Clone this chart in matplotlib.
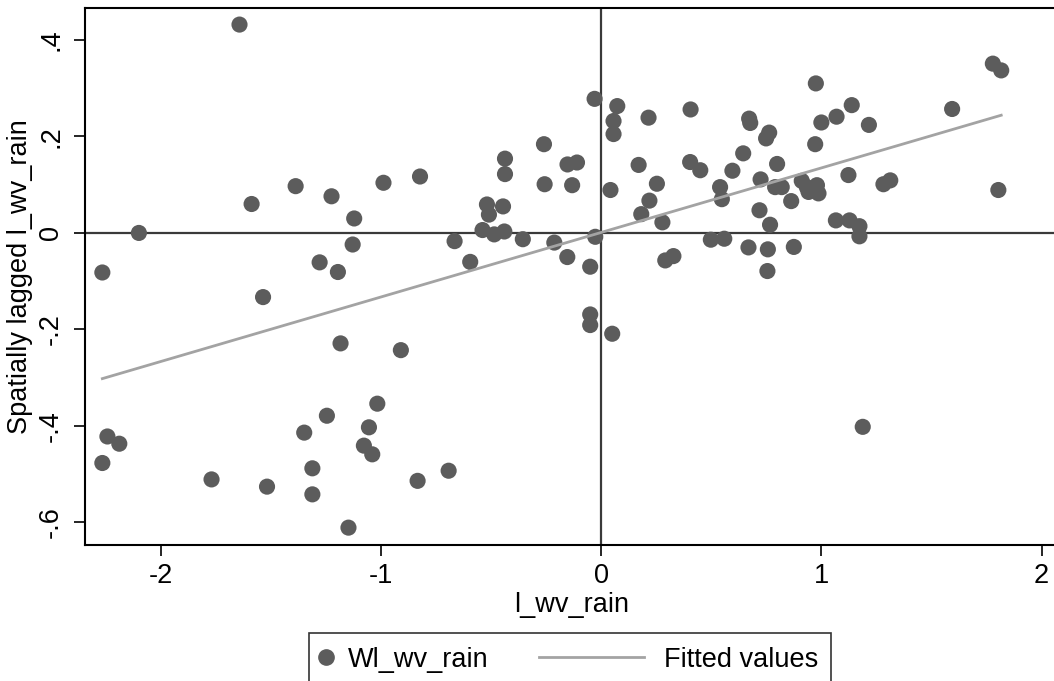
import numpy as np
import matplotlib
matplotlib.use('Agg')
import matplotlib.pyplot as plt
from matplotlib.lines import Line2D
from matplotlib.legend_handler import HandlerLine2D

plt.rcParams['font.family'] = ['Liberation Sans', 'DejaVu Sans']
plt.rcParams['axes.unicode_minus'] = False

# standardised rain (x) and its spatial lag (y)
l_wv_rain = [-1.643, -0.030, -0.260, -0.437, -0.437, -0.153, -0.110, -0.257, -0.132, -0.823,
             -0.989, -1.388, -1.225, -1.588, -1.122, -0.519, -0.446, -0.510, -0.539, -0.486,
             -0.440, -0.356, -0.213, -0.027, -0.666, -0.595, -0.154, -0.050, -2.100, -2.266,
             -1.129, -1.279, -1.196, -1.536, -0.050, -0.050, -1.184, -0.910, -1.017, -1.246,
             -1.055, -1.349, -2.243, -2.189, -2.266, -1.078, -1.040, -1.312, -0.693, -1.770,
             -0.834, -1.518, -1.312, -1.148, 0.050, 1.188, 1.779, 1.817, 0.975, 1.594,
             1.138, 1.069, 1.000, 1.216, 0.972, 0.073, 0.056, 0.056, 0.215, 0.406,
             0.672, 0.677, 0.763, 0.749, 0.645, 0.799, 0.170, 0.404, 0.450, 0.596,
             0.724, 1.123, 1.282, 1.313, 1.804, 0.042, 0.253, 0.540, 0.548, 0.219,
             0.182, 0.278, 0.719, 0.767, 0.863, 0.911, 0.934, 0.980, 0.987, 0.942,
             0.790, 0.820, 1.066, 1.128, 1.173, 1.173, 0.498, 0.559, 0.669, 0.757,
             0.875, 0.755, 0.291, 0.328]
wl_wv_rain = [0.432, 0.278, 0.184, 0.154, 0.122, 0.142, 0.146, 0.101, 0.099, 0.117,
              0.104, 0.097, 0.076, 0.060, 0.030, 0.059, 0.055, 0.038, 0.006, -0.003,
              0.003, -0.013, -0.020, -0.008, -0.017, -0.060, -0.050, -0.070, 0.000, -0.082,
              -0.024, -0.061, -0.081, -0.133, -0.169, -0.191, -0.229, -0.243, -0.354, -0.379,
              -0.403, -0.414, -0.422, -0.437, -0.477, -0.441, -0.459, -0.488, -0.493, -0.511,
              -0.514, -0.526, -0.542, -0.611, -0.209, -0.402, 0.351, 0.337, 0.310, 0.257,
              0.265, 0.241, 0.229, 0.224, 0.184, 0.263, 0.232, 0.205, 0.239, 0.256,
              0.237, 0.228, 0.208, 0.196, 0.165, 0.143, 0.141, 0.147, 0.130, 0.129,
              0.111, 0.120, 0.101, 0.109, 0.089, 0.089, 0.102, 0.095, 0.070, 0.067,
              0.039, 0.022, 0.047, 0.017, 0.066, 0.108, 0.095, 0.099, 0.082, 0.085,
              0.095, 0.095, 0.026, 0.026, 0.014, -0.007, -0.014, -0.012, -0.030, -0.034,
              -0.029, -0.079, -0.057, -0.048]

x_ticks = [-2, -1, 0, 1, 2]
y_ticks = [-0.6, -0.4, -0.2, 0, 0.2, 0.4]
y_ticklabels = ['-.6', '-.4', '-.2', '0', '.2', '.4']


class KeyHandler(HandlerLine2D):
    # legend key drawn between fractions a..b of the handle box (Stata-like keys)
    def __init__(self, a, b, **kw):
        super().__init__(numpoints=1, **kw)
        self.a, self.b = a, b

    def get_xdata(self, legend, xdescent, ydescent, width, height, fontsize):
        xdata = np.array([self.a, self.b]) * width - xdescent
        return xdata, [0.5 * (self.a + self.b) * width - xdescent]


x = np.array(l_wv_rain)
y = np.array(wl_wv_rain)
slope, intercept = np.polyfit(x, y, 1)
xf = np.array([x.min(), x.max()])
yf = intercept + slope * xf

fs = 19.5
fig = plt.figure(figsize=(10.54, 6.81), dpi=100)
ax = fig.add_axes([0.0806, 0.1997, 0.923, 0.789])

ax.axhline(0, color='#3a3a3a', lw=1.6, zorder=1)
ax.axvline(0, color='#3a3a3a', lw=1.6, zorder=1)
ax.scatter(x, y, s=135, color='#5c5c5c', edgecolors='none', zorder=3)
ax.plot(xf, yf, color='#a3a3a3', lw=2, zorder=4)

ax.set_xlim(-2.345, 2.074)
ax.set_ylim(-0.647, 0.467)
ax.set_xticks(x_ticks)
ax.set_yticks(y_ticks)
ax.set_yticklabels(y_ticklabels, rotation=90, va='center')
ax.tick_params(length=8, width=1.2, labelsize=fs, pad=5)
ax.tick_params(axis='y', pad=7)
for s in ax.spines.values():
    s.set_linewidth(1.5)
ax.set_xlabel('l_wv_rain', fontsize=fs, labelpad=2)
ax.set_ylabel('Spatially lagged l_wv_rain', fontsize=fs, labelpad=4)

h_dot = Line2D([], [], marker='o', ls='none', color='#5c5c5c', markersize=11)
h_fit = Line2D([], [], color='#a3a3a3', lw=2)
leg = fig.legend([h_dot, h_fit], ['Wl_wv_rain', 'Fitted values'], loc='upper left',
                 bbox_to_anchor=(0.2932, 0.0705), borderaxespad=0, ncol=2, fontsize=fs,
                 frameon=True, fancybox=False, edgecolor='black', handlelength=0.65,
                 handletextpad=0.3, columnspacing=5.5, borderpad=0.5,
                 handler_map={h_dot: KeyHandler(0.2, 0.2),
                              h_fit: KeyHandler(-5.63, 0.37)})
leg.get_frame().set_linewidth(1.2)

fig.savefig('out.png', dpi=100)
